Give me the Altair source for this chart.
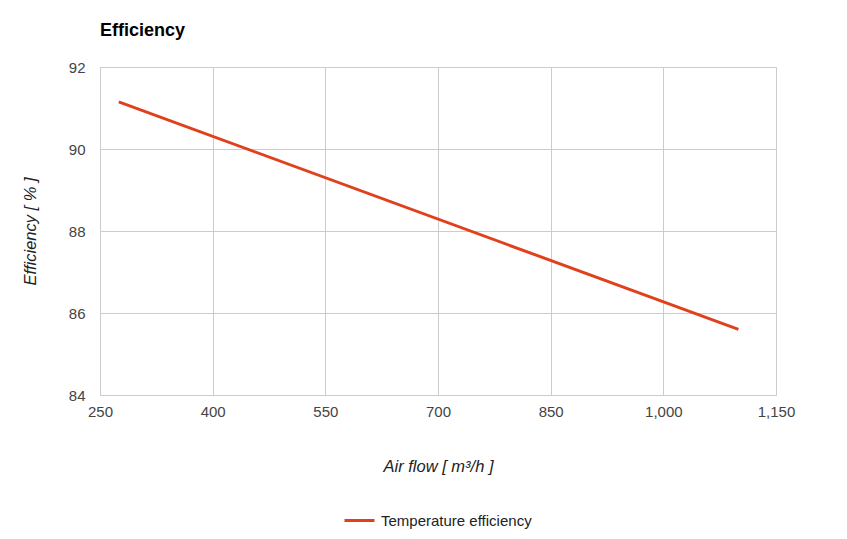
import altair as alt
import pandas as pd

airflow = [275, 1100]
efficiency = [91.15, 85.6]
series = ["Temperature efficiency", "Temperature efficiency"]

df = pd.DataFrame({"Air flow": airflow, "Efficiency": efficiency, "Series": series})

FONT = "Liberation Sans"

chart = alt.Chart(df).mark_line(strokeWidth=3).encode(
    x=alt.X("Air flow:Q",
            scale=alt.Scale(domain=[250, 1150], nice=False, zero=False),
            axis=alt.Axis(values=[250, 400, 550, 700, 850, 1000, 1150], format=",.0f",
                          title="Air flow [ m³/h ]", titleFontStyle="italic",
                          titleFontWeight="normal", titleFontSize=16.5, titleColor="#222",
                          titleX=338, titleY=71, titleBaseline="middle",
                          labelFontSize=15, labelColor="#444", labelPadding=9,
                          labelFlush=False,
                          ticks=False, domainColor="#ccc", gridColor="#ccc")),
    y=alt.Y("Efficiency:Q",
            scale=alt.Scale(domain=[84, 92], nice=False, zero=False),
            axis=alt.Axis(values=[84, 86, 88, 90, 92],
                          title="Efficiency [ % ]", titleFontStyle="italic",
                          titleFontWeight="normal", titleFontSize=16.5, titleColor="#222",
                          titleX=-70, titleY=164, titleBaseline="middle",
                          labelFontSize=15, labelColor="#444", labelPadding=15,
                          labelFlush=False,
                          ticks=False, domainColor="#ccc", gridColor="#ccc")),
    color=alt.Color("Series:N",
                    scale=alt.Scale(range=["#e0411c"]),
                    legend=alt.Legend(title=None, orient="none", legendX=243, legendY=437,
                                      direction="horizontal", symbolType="stroke",
                                      symbolSize=900, symbolStrokeWidth=3,
                                      labelFontSize=15, labelColor="#222", labelOffset=5)),
).properties(
    width=676, height=328,
    title=alt.Title("Efficiency", anchor="start", fontSize=18, fontWeight="bold",
                    color="#000", offset=20, frame="group"),
    autosize=alt.AutoSizeParams(type="none"),
    padding={"left": 92, "top": 59, "right": 63, "bottom": 144},
).configure(font=FONT).configure_view(stroke="#ccc")

chart.save("out.html", embed_options={"renderer": "svg", "actions": False})
